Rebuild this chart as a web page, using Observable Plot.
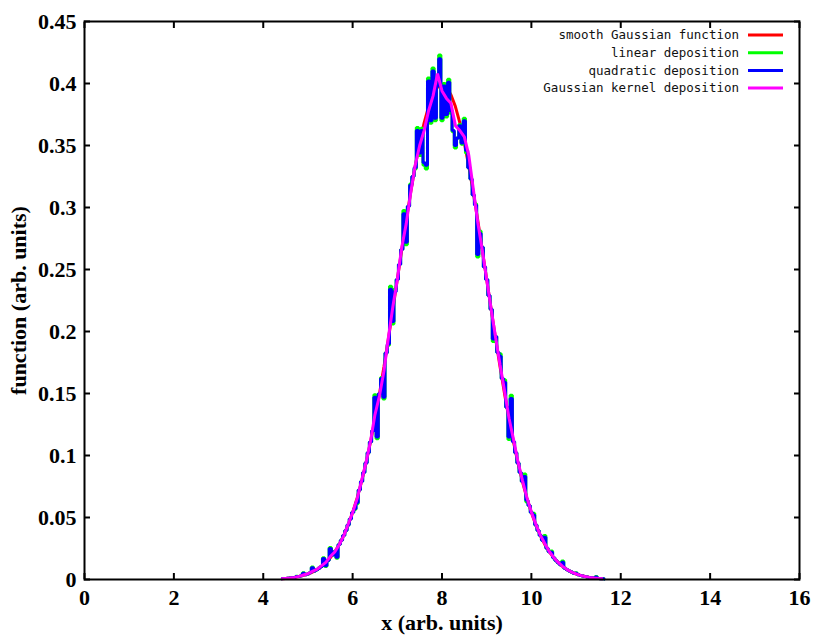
<!DOCTYPE html>
<html><head><meta charset="utf-8">
<script src="https://cdn.jsdelivr.net/npm/d3@7"></script>
<script src="https://cdn.jsdelivr.net/npm/@observablehq/plot@0.6"></script>
<style>
body{margin:0;background:#fff;}
#chart{width:816px;height:636px;}
</style></head><body><div id="chart"></div><script>
// sampling grids (x values of each series)
const fineStart = 4.4, fineStep = 0.05;   // linear & quadratic deposition
const coarseStart = 4.4, coarseStep = 0.1; // smooth function & Gaussian kernel

const smoothGaussian = [0.0006,0.0009,0.0012,0.0017,0.0024,0.0033,0.0044,0.0060,0.0079,0.0104,0.0136,0.0175,0.0224,0.0283,0.0355,0.0440,0.0540,0.0656,0.0790,0.0940,0.1109,0.1295,0.1497,0.1714,0.1942,0.2179,0.2420,0.2661,0.2897,0.3123,0.3332,0.3521,0.3683,0.3814,0.3910,0.3970,0.3989,0.3970,0.3910,0.3814,0.3683,0.3521,0.3332,0.3123,0.2897,0.2661,0.2420,0.2179,0.1942,0.1714,0.1497,0.1295,0.1109,0.0940,0.0790,0.0656,0.0540,0.0440,0.0355,0.0283,0.0224,0.0175,0.0136,0.0104,0.0079,0.0060,0.0044,0.0033,0.0024,0.0017,0.0012,0.0009,0.0006];

const quadraticDep = [0.0006,0.0008,0.0009,0.0011,0.0012,0.0015,0.0017,0.0025,0.0024,0.0030,0.0050,0.0038,0.0044,0.0055,0.0095,0.0069,0.0079,0.0091,0.0104,0.0170,0.0110,0.0154,0.0250,0.0198,0.0224,0.0180,0.0283,0.0317,0.0355,0.0396,0.0440,0.0488,0.0540,0.0570,0.0620,0.0721,0.0790,0.0863,0.0940,0.1023,0.1109,0.1200,0.1470,0.1150,0.1497,0.1620,0.1470,0.1826,0.1900,0.2340,0.2080,0.2320,0.2420,0.2541,0.2661,0.2950,0.2720,0.3011,0.3180,0.3250,0.3320,0.3620,0.3440,0.3620,0.3360,0.3340,0.4020,0.3700,0.4100,0.3720,0.3980,0.4200,0.3720,0.3980,0.3750,0.4010,0.3780,0.3620,0.3500,0.3560,0.3660,0.3520,0.3700,0.3460,0.3320,0.3230,0.3100,0.3020,0.2620,0.2790,0.2680,0.2520,0.2420,0.2290,0.2180,0.1940,0.1960,0.1830,0.1800,0.1620,0.1590,0.1390,0.1150,0.1460,0.1110,0.1023,0.0940,0.0863,0.0790,0.0830,0.0640,0.0596,0.0540,0.0520,0.0440,0.0396,0.0355,0.0317,0.0340,0.0252,0.0224,0.0220,0.0175,0.0154,0.0136,0.0119,0.0140,0.0091,0.0079,0.0069,0.0060,0.0051,0.0050,0.0038,0.0033,0.0028,0.0024,0.0020,0.0017,0.0014,0.0012,0.0020,0.0009,0.0007,0.0006,0.0005];

const linearDep = [0.0006,0.0008,0.0009,0.0011,0.0012,0.0015,0.0017,0.0027,0.0024,0.0031,0.0055,0.0038,0.0044,0.0057,0.0100,0.0069,0.0079,0.0093,0.0104,0.0175,0.0105,0.0154,0.0258,0.0198,0.0224,0.0172,0.0283,0.0317,0.0355,0.0396,0.0440,0.0490,0.0540,0.0565,0.0610,0.0721,0.0790,0.0863,0.0940,0.1023,0.1109,0.1200,0.1490,0.1135,0.1497,0.1630,0.1455,0.1826,0.1890,0.2365,0.2060,0.2340,0.2420,0.2541,0.2661,0.2975,0.2700,0.3011,0.3190,0.3250,0.3310,0.3645,0.3420,0.3640,0.3340,0.3310,0.4045,0.3680,0.4125,0.3700,0.3990,0.4230,0.3700,0.4000,0.3730,0.4035,0.3760,0.3610,0.3480,0.3560,0.3670,0.3510,0.3720,0.3440,0.3320,0.3230,0.3100,0.3030,0.2600,0.2810,0.2680,0.2520,0.2420,0.2290,0.2180,0.1920,0.1960,0.1830,0.1820,0.1620,0.1610,0.1390,0.1130,0.1485,0.1110,0.1023,0.0940,0.0863,0.0790,0.0850,0.0625,0.0596,0.0540,0.0535,0.0440,0.0396,0.0355,0.0317,0.0355,0.0252,0.0224,0.0230,0.0175,0.0154,0.0136,0.0119,0.0150,0.0091,0.0079,0.0069,0.0060,0.0051,0.0055,0.0038,0.0033,0.0028,0.0024,0.0020,0.0017,0.0014,0.0012,0.0025,0.0009,0.0007,0.0006,0.0005];

const kernelDep = [0.0006,0.0009,0.0012,0.0017,0.0025,0.0036,0.0046,0.0065,0.0082,0.0110,0.0138,0.0185,0.0222,0.0280,0.0352,0.0445,0.0540,0.0650,0.0795,0.0945,0.1115,0.1330,0.1480,0.1680,0.1950,0.2200,0.2420,0.2680,0.2870,0.3120,0.3340,0.3500,0.3620,0.3780,0.3900,0.4080,0.3940,0.3880,0.3840,0.3660,0.3620,0.3570,0.3420,0.3150,0.2880,0.2660,0.2420,0.2180,0.1950,0.1730,0.1520,0.1300,0.1130,0.0950,0.0800,0.0660,0.0545,0.0445,0.0358,0.0290,0.0226,0.0178,0.0138,0.0106,0.0080,0.0060,0.0045,0.0033,0.0024,0.0017,0.0012,0.0009,0.0006];

const xTicks = [0,2,4,6,8,10,12,14,16];
const yTicks = [0,0.05,0.1,0.15,0.2,0.25,0.3,0.35,0.4,0.45];
const legendLabels = ["smooth Gaussian function","linear deposition","quadratic deposition","Gaussian kernel deposition"];
const seriesColors = ["#ff0000","#00ff00","#0000ff","#ff00ff"];

const toRows = (vals, start, step) => vals.map((y, i) => ({x: +(start + i * step).toFixed(3), y}));
const redRows = toRows(smoothGaussian, coarseStart, coarseStep);
const greenRows = toRows(linearDep, fineStart, fineStep);
const blueRows = toRows(quadraticDep, fineStart, fineStep);
const magRows = toRows(kernelDep, coarseStart, coarseStep);

const lineOpts = {x: "x", y: "y", strokeWidth: 3, strokeLinejoin: "miter", strokeLinecap: "butt"};
const fmt = d => String(+d.toFixed(2));

const plot = Plot.plot({
  width: 816, height: 636,
  marginLeft: 84, marginRight: 17, marginTop: 21, marginBottom: 57,
  style: {fontFamily: "'Liberation Serif','Times New Roman',serif", fontSize: "22px", fontWeight: "bold", color: "#000", background: "#fff"},
  x: {domain: [0, 16]},
  y: {domain: [0, 0.45]},
  marks: [
    Plot.line(redRows, {...lineOpts, stroke: seriesColors[0]}),
    Plot.line(greenRows, {...lineOpts, stroke: seriesColors[1], curve: "step"}),
    Plot.line(blueRows, {...lineOpts, stroke: seriesColors[2], curve: "step"}),
    Plot.line(magRows, {...lineOpts, stroke: seriesColors[3]}),
    Plot.frame({stroke: "#000", strokeWidth: 2}),
    Plot.axisX({ticks: xTicks, tickSize: -6, tickPadding: 16, strokeWidth: 2, tickFormat: fmt, label: "x (arb. units)", labelAnchor: "center", labelOffset: 50, labelArrow: "none"}),
    Plot.axisX({anchor: "top", ticks: xTicks, tickSize: -6, strokeWidth: 2, tickFormat: () => "", label: null}),
    Plot.axisY({ticks: yTicks, tickSize: -6, tickPadding: 14, strokeWidth: 2, tickFormat: fmt, label: "function (arb. units)", labelAnchor: "center", labelOffset: 74, labelArrow: "none"}),
    Plot.axisY({anchor: "right", ticks: yTicks, tickSize: -6, strokeWidth: 2, tickFormat: () => "", label: null})
  ]
});
document.getElementById("chart").appendChild(plot);

const svg = d3.select(plot);
const lg = svg.append("g")
  .attr("font-family", "'DejaVu Sans Mono','Liberation Mono',monospace")
  .attr("font-size", 12.5)
  .attr("font-weight", "normal");
legendLabels.forEach((t, i) => {
  const yy = 35 + i * 17.7;
  lg.append("text").attr("x", 739).attr("y", yy).attr("dy", "0.35em").attr("text-anchor", "end").attr("fill", "#111").text(t);
  lg.append("line").attr("x1", 748).attr("x2", 783).attr("y1", yy).attr("y2", yy).attr("stroke", seriesColors[i]).attr("stroke-width", 3);
});
</script></body></html>
